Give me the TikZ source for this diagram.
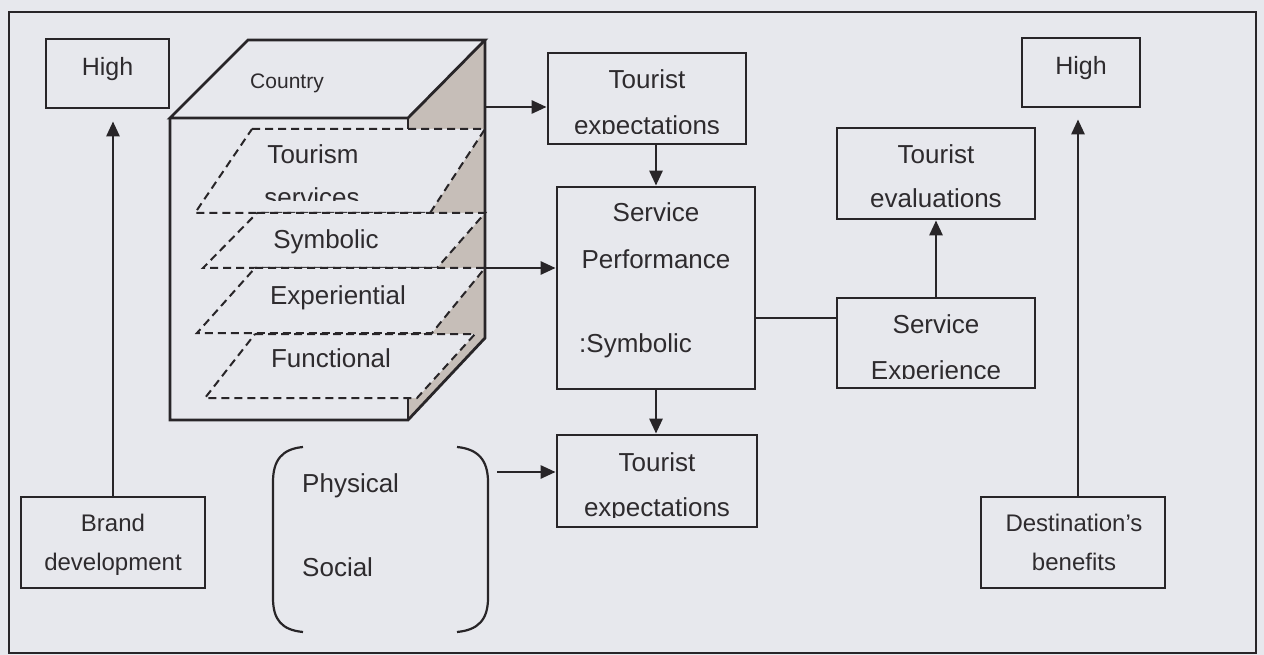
\documentclass[tikz,border=0pt]{standalone}
\usepackage{fontspec}
\setmainfont{Liberation Sans}
\usetikzlibrary{arrows.meta}
\definecolor{paper}{RGB}{231,232,237}
\definecolor{linecol}{RGB}{40,37,40}
\definecolor{textcol}{RGB}{46,43,46}
\definecolor{sideface}{RGB}{198,190,184}
\begin{document}
\begin{tikzpicture}[x=1pt,y=-1pt,
  ink/.style={draw=linecol, line width=2.8pt},
  box/.style={rectangle, draw=linecol, line width=2.8pt, inner sep=0pt},
  arr/.style={ink, -{Triangle[length=15pt,width=13pt]}},
  layer/.style={fill=paper, draw=linecol, line width=2pt, dash pattern=on 8pt off 5pt},
  txt/.style={anchor=base, inner sep=0pt, text=textcol, font=\fontsize{26}{30}\selectfont},
  txtm/.style={txt, font=\fontsize{24}{28}\selectfont},
  txts/.style={txt, font=\fontsize{21}{25}\selectfont},
]
% page and outer frame
\fill[paper] (0,0) rectangle (1264,655);
\useasboundingbox (0,0) rectangle (1264,655);
\draw[ink] (9,12) rectangle (1256,653);

% ---------- boxes ----------
\node[box, minimum width=123pt, minimum height=69pt] (highL) at (107.5,73.5) {};
\node[box, minimum width=118pt, minimum height=69pt] (highR) at (1081,72.5) {};
\node[box, minimum width=184pt, minimum height=91pt] (brand) at (113,542.5) {};
\node[box, minimum width=184pt, minimum height=91pt] (dest) at (1073,542.5) {};
\node[box, minimum width=198pt, minimum height=91pt] (teA) at (647,98.5) {};
\node[box, minimum width=198pt, minimum height=202pt] (sp) at (656,288) {};
\node[box, minimum width=200pt, minimum height=92pt] (teB) at (657,481) {};
\node[box, minimum width=198pt, minimum height=91pt] (tev) at (936,173.5) {};
\node[box, minimum width=198pt, minimum height=90pt] (se) at (936,343) {};

% ---------- the country cube ----------
\fill[sideface] (485,40) -- (485,338) -- (408,420) -- (408,118) -- cycle;
% service layers
\draw[layer] (252,129) -- (485,129) -- (430,213) -- (195,213) -- cycle;
\draw[layer] (257,213) -- (485,213) -- (437,268) -- (203,268) -- cycle;
\draw[layer] (255,268) -- (485,268) -- (432,333) -- (197,333) -- cycle;
\draw[layer] (255,334) -- (475,334) -- (417,398) -- (205,398) -- cycle;
% cube outline
\draw[ink, line join=miter] (248,40) -- (485,40) -- (408,118) -- (170,118) -- cycle;
\draw[ink, line join=miter] (170,118) -- (170,420) -- (408,420) -- (485,338) -- (485,40);
\draw[ink] (408,118) -- (408,129);
\draw[ink] (408,398) -- (408,420);
\coordinate (cubeA) at (485,107);
\coordinate (cubeB) at (485,268);

% ---------- brackets ----------
\draw[ink, line width=2.2pt] (303,447) .. controls (282,449) and (273,460) .. (273,482)
  -- (273,598) .. controls (273,620) and (282,630) .. (303,632);
\draw[ink, line width=2.2pt] (457,447) .. controls (478,449) and (488,460) .. (488,482)
  -- (488,598) .. controls (488,620) and (478,630) .. (457,632);
\coordinate (brk) at (497,472);

% ---------- texts ----------
\node[txt, font=\fontsize{25}{29}\selectfont] (tHighL) at (107.5,76) {High};
\node[txt, font=\fontsize{25}{29}\selectfont] (tHighR) at (1081,75) {High};
\node[txtm] (tBrand1) at (113,531) {Brand};
\node[txtm] (tBrand2) at (113,570) {development};
\node[txtm] (tDest1) at (1074,531) {Destination’s};
\node[txtm] (tDest2) at (1074,570) {benefits};
\node[txts] (tCountry) at (287,89) {Country};
\node[txt] (tTour1) at (313,164) {Tourism};
\begin{scope}
  \clip (0,0) rectangle (1264,201);
  \node[txt] (tTour2) at (312,207) {services};
\end{scope}
\node[txt] (tSym) at (326,249) {Symbolic};
\node[txt] (tExp) at (338,305) {Experiential};
\node[txt] (tFun) at (331,367) {Functional};

\node[txt] (tA1) at (647,89) {Tourist};
\begin{scope}
  \clip (0,0) rectangle (1264,134);
  \node[txt] (tA2) at (647,134.5) {expectations};
\end{scope}
\node[txt] (tS1) at (656,222) {Service};
\node[txt] (tS2) at (656,269) {Performance};
\node[txt, anchor=base west] (tS3) at (579,352) {:Symbolic};
\node[txt] (tB1) at (657,471) {Tourist};
\begin{scope}
  \clip (0,0) rectangle (1264,517);
  \node[txt] (tB2) at (657,516.5) {expectations};
\end{scope}
\node[txt] (tV1) at (936,164) {Tourist};
\node[txt] (tV2) at (936,208) {evaluations};
\node[txt] (tE1) at (936,333) {Service};
\begin{scope}
  \clip (0,0) rectangle (1264,378.5);
  \node[txt] (tE2) at (936,379.5) {Experience};
\end{scope}
\node[txt, anchor=base west] (tPhy) at (302,492) {Physical};
\node[txt, anchor=base west] (tSoc) at (302,576) {Social};

% ---------- connectors ----------
\draw[arr] (cubeA) -- (cubeA -| teA.west);
\draw[arr] (cubeB) -- (cubeB -| sp.west);
\draw[arr] (sp.north |- teA.south) -- (sp.north);
\draw[arr] (sp.south) -- (sp.south |- teB.north);
\draw[arr] (brk) -- (brk -| teB.west);
\coordinate (spse) at (0,318);
\draw[ink] (sp.east |- spse) -- (se.west |- spse);
\draw[arr] (se.north) -- (tev.south);
\draw[arr, shorten >=12pt] (brand.north) -- (brand.north |- highL.south);
\draw[arr, shorten >=11pt] (1078,497) coordinate (destTop) -- (destTop |- highR.south);
\end{tikzpicture}
\end{document}
